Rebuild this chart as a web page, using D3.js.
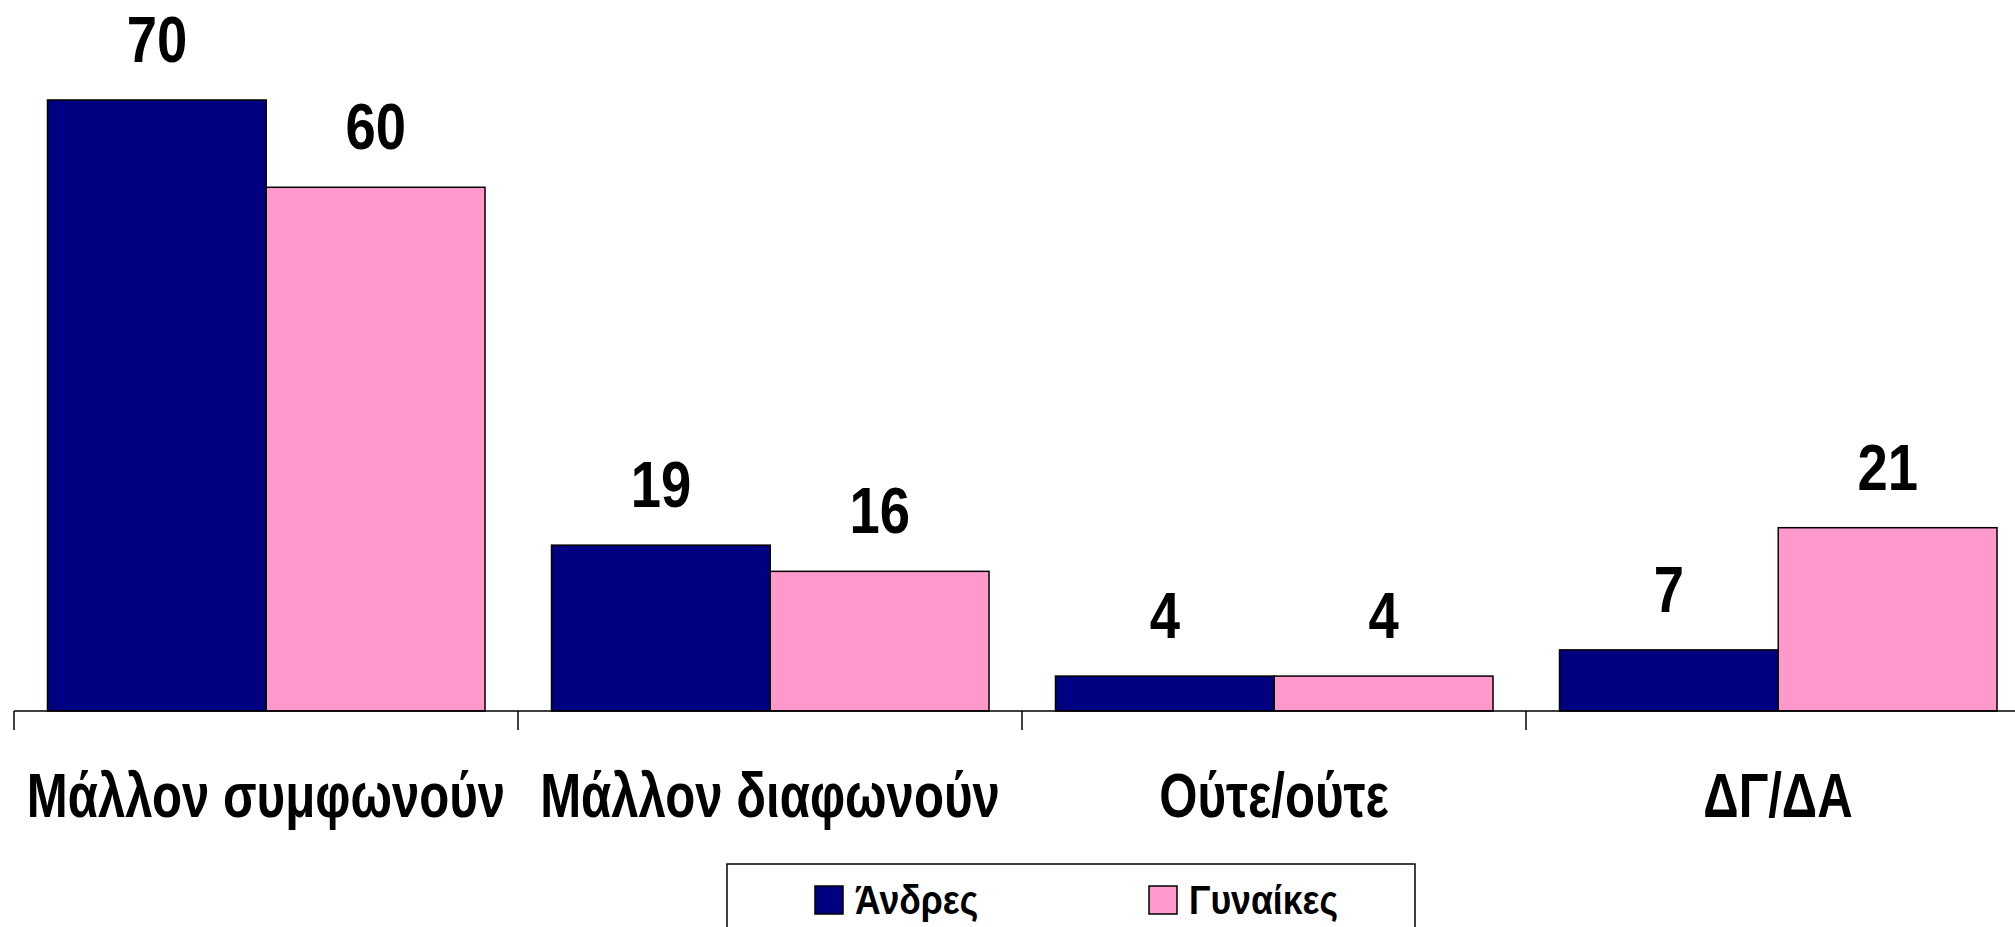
<!DOCTYPE html>
<html>
<head>
<meta charset="utf-8">
<script src="https://cdn.jsdelivr.net/npm/d3@7"></script>
<style>
  body { margin: 0; background: #fff; }
  text { font-family: "Liberation Sans Narrow", "Arial Narrow", "Liberation Sans", sans-serif; font-weight: bold; fill: #000; }
</style>
</head>
<body>
<div class="chart"></div>
<script>
var width = 2015;
var height = 927;

var categories = ["Μάλλον συμφωνούν", "Μάλλον διαφωνούν", "Ούτε/ούτε", "ΔΓ/ΔΑ"];
var series = ["Άνδρες", "Γυναίκες"];
var men = [70, 19, 4, 7];
var women = [60, 16, 4, 21];

var colors = ["#000080", "#ff99cc"];
var baseY = 711;

var svg = d3.select("div.chart").append("svg")
    .attr("width", width)
    .attr("height", height);

// no narrow font installed, so squeeze the regular one
function place(x, y, sx) {
  return "translate(" + x + "," + y + ") scale(" + sx + ",1)";
}

// category bands run a bit past the right edge, like the original
var x0 = d3.scaleBand().domain(categories).range([14, 2030]);
var x1 = d3.scaleBand().domain(series).range([33.5, x0.bandwidth() - 33]);
var y = d3.scaleLinear().domain([0, 80]).range([baseY, 12.7]);

var data = [];
categories.forEach(function(c, i) {
  data.push({cat: c, s: series[0], v: men[i], fill: colors[0]});
  data.push({cat: c, s: series[1], v: women[i], fill: colors[1]});
});

svg.selectAll("rect.bar").data(data).enter()
    .append("rect")
    .attr("class", "bar")
    .attr("x", function(d) { return x0(d.cat) + x1(d.s); })
    .attr("y", function(d) { return y(d.v); })
    .attr("width", x1.bandwidth())
    .attr("height", function(d) { return baseY - y(d.v); })
    .attr("fill", function(d) { return d.fill; })
    .attr("stroke", "#000")
    .attr("stroke-width", 1.5);

svg.selectAll("text.val").data(data).enter()
    .append("text")
    .attr("class", "val")
    .attr("transform", function(d) {
      return place(x0(d.cat) + x1(d.s) + x1.bandwidth() / 2, y(d.v) - 38, 0.85);
    })
    .attr("text-anchor", "middle")
    .style("font-size", "64px")
    .text(function(d) { return d.v; });

// axis line + ticks on band boundaries
svg.append("line")
    .attr("x1", 14).attr("x2", width)
    .attr("y1", baseY).attr("y2", baseY)
    .attr("stroke", "#000").attr("stroke-width", 1.5);

svg.selectAll("line.tick").data(categories).enter()
    .append("line")
    .attr("class", "tick")
    .attr("x1", function(d) { return x0(d); })
    .attr("x2", function(d) { return x0(d); })
    .attr("y1", baseY).attr("y2", baseY + 19)
    .attr("stroke", "#000").attr("stroke-width", 1.5);

svg.selectAll("text.cat").data(categories).enter()
    .append("text")
    .attr("class", "cat")
    .attr("transform", function(d) { return place(x0(d) + x0.bandwidth() / 2, 817, 0.78); })
    .attr("text-anchor", "middle")
    .style("font-size", "63px")
    .text(function(d) { return d; });

// legend
var legend = svg.append("g");
legend.append("rect")
    .attr("x", 727).attr("y", 864)
    .attr("width", 688).attr("height", 100)
    .attr("fill", "#fff")
    .attr("stroke", "#000").attr("stroke-width", 1.5);

var legX = [815, 1149];
legend.selectAll("rect.sw").data(series).enter()
    .append("rect")
    .attr("class", "sw")
    .attr("x", function(d, i) { return legX[i]; })
    .attr("y", 886)
    .attr("width", 28).attr("height", 28)
    .attr("fill", function(d, i) { return colors[i]; })
    .attr("stroke", "#000").attr("stroke-width", 1.5);

legend.selectAll("text.leg").data(series).enter()
    .append("text")
    .attr("class", "leg")
    .attr("transform", function(d, i) { return place(legX[i] + 40, 914, 0.89); })
    .style("font-size", "40px")
    .text(function(d) { return d; });
</script>
</body>
</html>
